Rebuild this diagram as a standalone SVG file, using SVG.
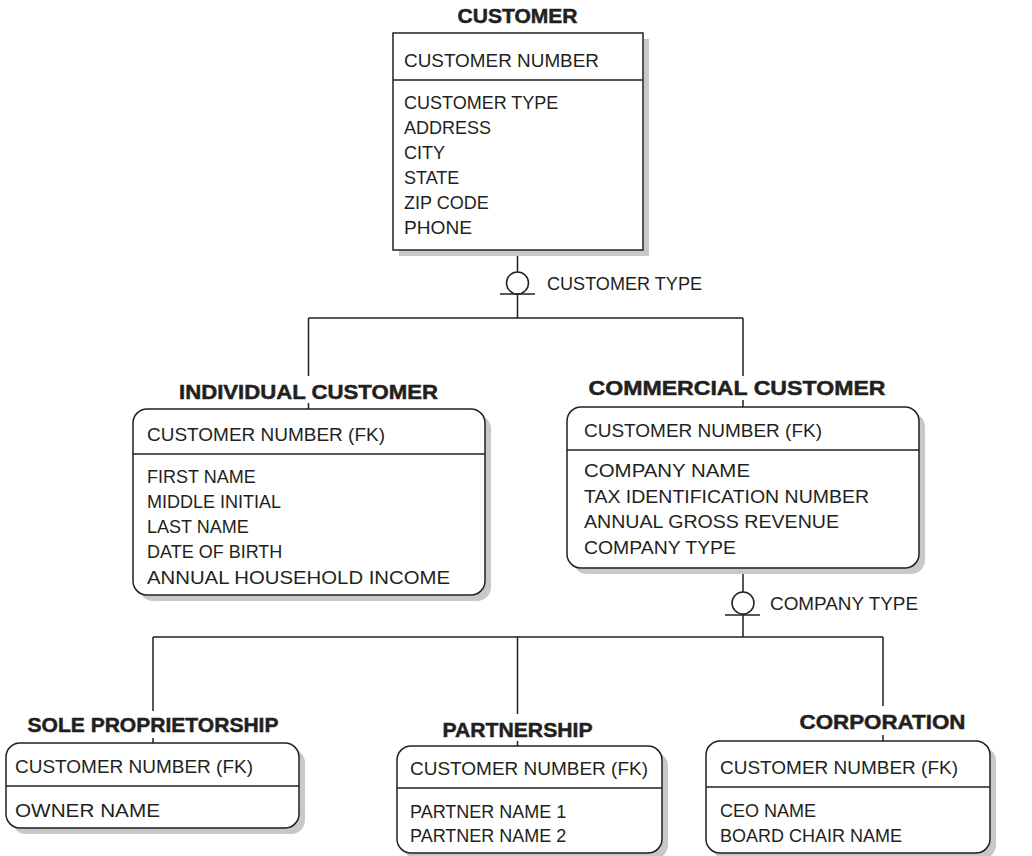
<svg xmlns="http://www.w3.org/2000/svg" width="1032" height="856" viewBox="0 0 1032 856">
<style>
.bg{fill:#ffffff}
.sh{fill:#c8c8c8}
.box{fill:#ffffff;stroke:#231f20;stroke-width:1.5}
.ln{stroke:#231f20;stroke-width:1.5;fill:none}
.t{font-family:"Liberation Sans",Arial,sans-serif;font-size:18px;fill:#231f20}
.ttl{font-family:"Liberation Sans",Arial,sans-serif;font-size:21px;font-weight:bold;fill:#231f20;stroke:#231f20;stroke-width:0.5;text-anchor:middle}
</style>
<rect class="bg" x="0" y="0" width="1032" height="856"/>

<g id="connectors">
  <!-- customer to subtype -->
  <line class="ln" x1="517.5" y1="250" x2="517.5" y2="272"/>
  <circle class="ln" cx="517.5" cy="283" r="11"/>
  <line class="ln" x1="500" y1="294" x2="535" y2="294"/>
  <line class="ln" x1="517.5" y1="294" x2="517.5" y2="318"/>
  <line class="ln" x1="308.5" y1="318" x2="743" y2="318"/>
  <line class="ln" x1="308.5" y1="318" x2="308.5" y2="376"/>
  <line class="ln" x1="308.5" y1="403" x2="308.5" y2="409"/>
  <line class="ln" x1="743" y1="318" x2="743" y2="376"/>
  <line class="ln" x1="743" y1="400" x2="743" y2="407"/>
  <text class="t" x="547" y="289.5" textLength="155" lengthAdjust="spacingAndGlyphs">CUSTOMER TYPE</text>
  <!-- commercial to subtype -->
  <line class="ln" x1="743" y1="568" x2="743" y2="592"/>
  <circle class="ln" cx="743" cy="603" r="11"/>
  <line class="ln" x1="725" y1="615" x2="760" y2="615"/>
  <line class="ln" x1="743" y1="615" x2="743" y2="637"/>
  <line class="ln" x1="153" y1="637" x2="883" y2="637"/>
  <line class="ln" x1="153" y1="637" x2="153" y2="711"/>
  <line class="ln" x1="153" y1="738" x2="153" y2="743"/>
  <line class="ln" x1="517.5" y1="637" x2="517.5" y2="714"/>
  <line class="ln" x1="517.5" y1="741" x2="517.5" y2="746"/>
  <line class="ln" x1="883" y1="637" x2="883" y2="706"/>
  <line class="ln" x1="883" y1="735" x2="883" y2="741"/>
  <text class="t" x="770" y="609.5" textLength="148" lengthAdjust="spacingAndGlyphs">COMPANY TYPE</text>
</g>

<g id="customer">
  <text class="ttl" x="517.5" y="23" textLength="120" lengthAdjust="spacingAndGlyphs">CUSTOMER</text>
  <rect class="sh" x="399" y="39" width="250" height="217"/>
  <rect class="box" x="393" y="33" width="250" height="217"/>
  <line class="ln" x1="393" y1="80" x2="643" y2="80"/>
  <text class="t" x="404" y="66.5" textLength="195" lengthAdjust="spacingAndGlyphs">CUSTOMER NUMBER</text>
  <text class="t" x="404" y="109">CUSTOMER TYPE</text>
  <text class="t" x="404" y="134">ADDRESS</text>
  <text class="t" x="404" y="159">CITY</text>
  <text class="t" x="404" y="184">STATE</text>
  <text class="t" x="404" y="209">ZIP CODE</text>
  <text class="t" x="404" y="234" textLength="68" lengthAdjust="spacingAndGlyphs">PHONE</text>
</g>

<g id="individual-customer">
  <text class="ttl" x="308.5" y="399" textLength="259" lengthAdjust="spacingAndGlyphs">INDIVIDUAL CUSTOMER</text>
  <rect class="sh" x="139" y="415" width="352" height="186" rx="14"/>
  <rect class="box" x="133" y="409" width="352" height="186" rx="14"/>
  <line class="ln" x1="133" y1="454" x2="485" y2="454"/>
  <text class="t" x="147" y="441" textLength="238" lengthAdjust="spacingAndGlyphs">CUSTOMER NUMBER (FK)</text>
  <text class="t" x="147" y="483">FIRST NAME</text>
  <text class="t" x="147" y="508">MIDDLE INITIAL</text>
  <text class="t" x="147" y="533">LAST NAME</text>
  <text class="t" x="147" y="558">DATE OF BIRTH</text>
  <text class="t" x="147" y="584" textLength="303" lengthAdjust="spacingAndGlyphs">ANNUAL HOUSEHOLD INCOME</text>
</g>

<g id="commercial-customer">
  <text class="ttl" x="737" y="395" textLength="297" lengthAdjust="spacingAndGlyphs">COMMERCIAL CUSTOMER</text>
  <rect class="sh" x="573" y="413" width="352" height="161" rx="14"/>
  <rect class="box" x="567" y="407" width="352" height="161" rx="14"/>
  <line class="ln" x1="567" y1="450" x2="919" y2="450"/>
  <text class="t" x="584" y="436.5" textLength="238" lengthAdjust="spacingAndGlyphs">CUSTOMER NUMBER (FK)</text>
  <text class="t" x="584" y="476.5" textLength="166" lengthAdjust="spacingAndGlyphs">COMPANY NAME</text>
  <text class="t" x="584" y="502.5" textLength="285" lengthAdjust="spacingAndGlyphs">TAX IDENTIFICATION NUMBER</text>
  <text class="t" x="584" y="528" textLength="255" lengthAdjust="spacingAndGlyphs">ANNUAL GROSS REVENUE</text>
  <text class="t" x="584" y="553.5" textLength="152" lengthAdjust="spacingAndGlyphs">COMPANY TYPE</text>
</g>

<g id="sole-proprietorship">
  <text class="ttl" x="153" y="732" textLength="251" lengthAdjust="spacingAndGlyphs">SOLE PROPRIETORSHIP</text>
  <rect class="sh" x="12" y="749" width="293" height="85" rx="14"/>
  <rect class="box" x="6" y="743" width="293" height="85" rx="14"/>
  <line class="ln" x1="6" y1="786" x2="299" y2="786"/>
  <text class="t" x="15" y="772.5" textLength="238" lengthAdjust="spacingAndGlyphs">CUSTOMER NUMBER (FK)</text>
  <text class="t" x="15" y="816.5" textLength="145" lengthAdjust="spacingAndGlyphs">OWNER NAME</text>
</g>

<g id="partnership">
  <text class="ttl" x="517.5" y="737" textLength="150" lengthAdjust="spacingAndGlyphs">PARTNERSHIP</text>
  <rect class="sh" x="403" y="752" width="265" height="107" rx="14"/>
  <rect class="box" x="397" y="746" width="265" height="107" rx="14"/>
  <line class="ln" x1="397" y1="788" x2="662" y2="788"/>
  <text class="t" x="410" y="774.5" textLength="238" lengthAdjust="spacingAndGlyphs">CUSTOMER NUMBER (FK)</text>
  <text class="t" x="410" y="817.5">PARTNER NAME 1</text>
  <text class="t" x="410" y="842">PARTNER NAME 2</text>
</g>

<g id="corporation">
  <text class="ttl" x="882.5" y="729" textLength="166" lengthAdjust="spacingAndGlyphs">CORPORATION</text>
  <rect class="sh" x="712" y="747" width="284" height="112" rx="14"/>
  <rect class="box" x="706" y="741" width="284" height="112" rx="14"/>
  <line class="ln" x1="706" y1="787" x2="990" y2="787"/>
  <text class="t" x="720" y="773.5" textLength="238" lengthAdjust="spacingAndGlyphs">CUSTOMER NUMBER (FK)</text>
  <text class="t" x="720" y="816.5">CEO NAME</text>
  <text class="t" x="720" y="842">BOARD CHAIR NAME</text>
</g>
</svg>
